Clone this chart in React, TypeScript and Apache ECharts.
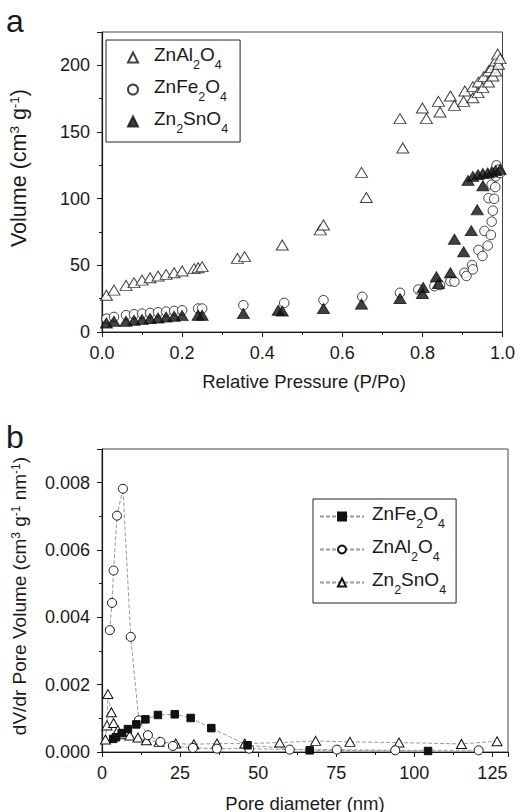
import React, { useEffect, useRef } from 'react';
import * as echarts from 'echarts';

const FONT = '"Liberation Sans", Arial, Helvetica, sans-serif';
const INK = '#1a1a1a';

// ---------- (a) N2 isotherms: relative pressure vs volume ----------
const isoAlX = [0.011, 0.03, 0.06, 0.08, 0.10, 0.12, 0.14, 0.16, 0.18, 0.20, 0.23, 0.24, 0.25, 0.338, 0.356, 0.45, 0.545, 0.553, 0.648, 0.66, 0.744, 0.751, 0.80, 0.81, 0.84, 0.844, 0.87, 0.88, 0.906, 0.903, 0.926, 0.926, 0.94, 0.939, 0.953, 0.951, 0.965, 0.965, 0.973, 0.976, 0.982, 0.983, 0.988, 0.99, 0.994];
const isoAlY = [27.6, 31.4, 35, 37, 38.9, 40.7, 42, 43.2, 44.4, 45.7, 47.5, 48.2, 49, 55.2, 56.5, 65.3, 76.6, 80.3, 119.7, 100.9, 160, 138, 168, 160, 173, 165, 177, 170, 180.7, 173, 184, 175.7, 187.5, 179.5, 191.5, 183.3, 195.8, 187.5, 198.3, 192, 203.3, 195.8, 208.4, 200.8, 205];

const isoFeX = [0.011, 0.03, 0.06, 0.08, 0.10, 0.12, 0.14, 0.16, 0.18, 0.20, 0.24, 0.25, 0.353, 0.455, 0.553, 0.65, 0.744, 0.79, 0.83, 0.844, 0.87, 0.88, 0.905, 0.91, 0.924, 0.926, 0.94, 0.95, 0.955, 0.963, 0.971, 0.973, 0.976, 0.965, 0.979, 0.973, 0.982, 0.983, 0.985, 0.99, 0.994];
const isoFeY = [10, 11.3, 12.6, 13.3, 13.8, 14.3, 14.8, 15.3, 15.8, 16.3, 17.6, 17.6, 20.1, 21.8, 23.9, 26.4, 29.4, 31.9, 34.4, 35.2, 38.2, 37.7, 44.4, 42, 50.2, 47, 61.5, 57, 75.8, 64.8, 72.8, 82.8, 91, 100.4, 99.9, 110.5, 108.7, 116.7, 125, 121.8, 119.3];

const isoSnX = [0.011, 0.03, 0.06, 0.08, 0.10, 0.12, 0.14, 0.16, 0.18, 0.20, 0.24, 0.25, 0.353, 0.44, 0.45, 0.553, 0.648, 0.744, 0.80, 0.802, 0.835, 0.84, 0.87, 0.88, 0.903, 0.922, 0.937, 0.951, 0.914, 0.926, 0.939, 0.951, 0.963, 0.973, 0.983, 0.994];
const isoSnY = [6.8, 8, 8, 8.8, 9.3, 10.1, 10.5, 11.3, 11.8, 12.3, 12.6, 12.6, 13.8, 16.3, 15.8, 17.6, 20.9, 25.1, 28.9, 33.4, 41.4, 36.4, 44.4, 69.6, 60.2, 76, 91.6, 109.7, 113.7, 116.7, 118, 118.8, 119.3, 120, 121, 121.8];

const isoXTicks = { min: 0, max: 1, interval: 0.2 };
const isoYTicks = { min: 0, max: 225, interval: 50 };

// ---------- (b) pore size distribution ----------
const psdFeX = [3.6, 4.5, 6.3, 8.3, 11.0, 13.9, 17.9, 23.3, 28.4, 35.0, 46.6, 66.5, 104.4];
const psdFeY = [0.00039, 0.00044, 0.00056, 0.00068, 0.00082, 0.00097, 0.0011, 0.00112, 0.00101, 0.00071, 0.0002, 0.00005, 0.00003];

const psdAlX = [2.5, 3.2, 3.7, 4.8, 6.7, 9.2, 11.8, 14.7, 18.7, 22.7, 29.1, 36.8, 47.1, 60.1, 75.2, 93.9, 120.6];
const psdAlY = [0.00362, 0.00443, 0.00539, 0.00702, 0.00782, 0.00342, 0.00094, 0.0005, 0.0003, 0.00018, 0.00012, 0.0001, 0.0001, 0.00007, 0.00007, 0.00005, 0.00005];

const psdSnX = [1.1, 1.6, 1.9, 3.0, 3.7, 5.1, 6.7, 8.9, 11.5, 14.2, 18.3, 23.6, 29.4, 36.8, 45.7, 56.9, 68.4, 79.4, 95.1, 115.1, 126.5];
const psdSnY = [0.00037, 0.00079, 0.00172, 0.00118, 0.00086, 0.00065, 0.00053, 0.00049, 0.00043, 0.00035, 0.0003, 0.00025, 0.00023, 0.00025, 0.00025, 0.00028, 0.00033, 0.0003, 0.00028, 0.00024, 0.00032];

const psdXTicks = { min: 0, max: 130, interval: 25 };
const psdYTicks = { min: 0, max: 0.009, interval: 0.002 };

const topLegendNames = ['a:ZnAl2O4', 'a:ZnFe2O4', 'a:Zn2SnO4'];
const bottomLegendNames = ['b:ZnFe2O4', 'b:ZnAl2O4', 'b:Zn2SnO4'];

const pairs = (xs: number[], ys: number[]) => xs.map((x, i) => [x, ys[i]]);

function richName(name: string, first: string) {
  const plain = name.replace(/^[ab]:/, '');
  const parts = plain.match(/\d+|\D+/g) || [];
  return parts
    .map((p, i) => {
      const isNum = /^\d+$/.test(p);
      const key = isNum ? 's' : i === 0 ? first : 'n';
      return `{${key}|${p}}`;
    })
    .join('');
}

function legendRich(firstPad: number) {
  return {
    f: { fontSize: 19, lineHeight: 25, verticalAlign: 'top', color: INK, fontFamily: FONT, padding: [0, 0, 0, firstPad] },
    n: { fontSize: 19, lineHeight: 25, verticalAlign: 'top', color: INK, fontFamily: FONT },
    s: { fontSize: 12.5, lineHeight: 12, verticalAlign: 'top', color: INK, fontFamily: FONT, padding: [13, 0, 0, 0] },
  };
}

function titleRich(size: number, sup: number) {
  return {
    n: { fontSize: size, lineHeight: size + 3, verticalAlign: 'top', fill: INK, color: INK, fontFamily: FONT },
    p: { fontSize: sup, lineHeight: sup, verticalAlign: 'top', fill: INK, color: INK, fontFamily: FONT },
  };
}

function valueAxis(gridIndex: number, ticks: { min: number; max: number; interval: number }, fmt: (v: number) => string, hideMax: boolean) {
  return {
    type: 'value',
    gridIndex,
    min: ticks.min,
    max: ticks.max,
    interval: ticks.interval,
    axisLine: { show: true, onZero: false, lineStyle: { color: INK, width: 1.2 } },
    axisTick: { show: true, inside: false, length: 5, lineStyle: { color: INK, width: 1 } },
    minorTick: { show: true, splitNumber: 2, length: 3, lineStyle: { color: INK, width: 1 } },
    splitLine: { show: false },
    minorSplitLine: { show: false },
    axisLabel: { fontSize: 18, color: INK, fontFamily: FONT, margin: 12, formatter: fmt, showMaxLabel: hideMax ? false : null },
  };
}

const openStyle = { color: '#fff', borderColor: '#111', borderWidth: 1 };
const filledStyle = { color: '#111', borderColor: '#111', borderWidth: 1 };
const psdLine = { color: '#9a9a9a', width: 1, type: [4, 2] };

export default function App() {
  const ref = useRef<HTMLDivElement>(null);

  useEffect(() => {
    if (!ref.current) return;
    const chart = echarts.init(ref.current, null, { renderer: 'svg' });
    const option: any = {
      animation: false,
      backgroundColor: '#fff',
      textStyle: { fontFamily: FONT, color: INK },
      grid: [
        { left: 102, top: 32, width: 404, height: 300, show: true, borderColor: '#444', borderWidth: 1, backgroundColor: 'transparent' },
        { left: 102, top: 449, width: 406, height: 303, show: true, borderColor: '#444', borderWidth: 1, backgroundColor: 'transparent' },
      ],
      xAxis: [
        valueAxis(0, isoXTicks, (v: number) => v.toFixed(1), false),
        valueAxis(1, psdXTicks, (v: number) => String(v), false),
      ],
      yAxis: [
        valueAxis(0, isoYTicks, (v: number) => String(v), true),
        valueAxis(1, psdYTicks, (v: number) => v.toFixed(3), true),
      ],
      legend: [
        {
          orient: 'vertical', left: 106, top: 40, padding: [5, 12, 7, 21], itemGap: 6, itemWidth: 10, itemHeight: 10,
          borderColor: '#222', borderWidth: 1, backgroundColor: '#fff', selectedMode: false,
          data: topLegendNames, formatter: (n: string) => richName(n, 'f'), textStyle: { rich: legendRich(11) },
        },
        {
          orient: 'vertical', left: 313, top: 499, padding: [5, 10, 7, 6], itemGap: 7, itemWidth: 44, itemHeight: 10,
          borderColor: '#222', borderWidth: 1, backgroundColor: '#fff', selectedMode: false,
          data: bottomLegendNames, formatter: (n: string) => richName(n, 'f'), textStyle: { rich: legendRich(3) },
        },
      ],
      series: [
        { name: 'a:ZnAl2O4', type: 'scatter', xAxisIndex: 0, yAxisIndex: 0, symbol: 'triangle', symbolSize: [12, 10], itemStyle: openStyle, data: pairs(isoAlX, isoAlY) },
        { name: 'a:ZnFe2O4', type: 'scatter', xAxisIndex: 0, yAxisIndex: 0, symbol: 'circle', symbolSize: 9.5, itemStyle: openStyle, data: pairs(isoFeX, isoFeY) },
        { name: 'a:Zn2SnO4', type: 'scatter', xAxisIndex: 0, yAxisIndex: 0, symbol: 'triangle', symbolSize: [12, 10], itemStyle: filledStyle, data: pairs(isoSnX, isoSnY) },
        { name: 'b:Zn2SnO4', type: 'line', xAxisIndex: 1, yAxisIndex: 1, symbol: 'triangle', symbolSize: [10, 9], showSymbol: true, showAllSymbol: true, itemStyle: openStyle, lineStyle: psdLine, data: pairs(psdSnX, psdSnY) },
        { name: 'b:ZnAl2O4', type: 'line', xAxisIndex: 1, yAxisIndex: 1, symbol: 'circle', symbolSize: 9, showSymbol: true, showAllSymbol: true, itemStyle: openStyle, lineStyle: psdLine, data: pairs(psdAlX, psdAlY) },
        { name: 'b:ZnFe2O4', type: 'line', xAxisIndex: 1, yAxisIndex: 1, symbol: 'rect', symbolSize: 7.5, showSymbol: true, showAllSymbol: true, itemStyle: filledStyle, lineStyle: psdLine, data: pairs(psdFeX, psdFeY) },
      ],
      graphic: [
        { type: 'text', x: 6, y: 20.6, style: { text: 'a', fontSize: 32, fontFamily: FONT, fill: INK, align: 'left', verticalAlign: 'middle' } },
        { type: 'text', x: 6, y: 437.2, style: { text: 'b', fontSize: 32, fontFamily: FONT, fill: INK, align: 'left', verticalAlign: 'middle' } },
        { type: 'text', x: 304, y: 381, style: { text: 'Relative Pressure (P/Po)', fontSize: 18.5, fontFamily: FONT, fill: INK, align: 'center', verticalAlign: 'middle' } },
        { type: 'text', x: 305, y: 803, style: { text: 'Pore diameter (nm)', fontSize: 18.5, fontFamily: FONT, fill: INK, align: 'center', verticalAlign: 'middle' } },
        { type: 'text', x: 20, y: 168, rotation: Math.PI / 2, style: { text: '{n|Volume (cm}{p|3}{n| g}{p|-1}{n|)}', rich: titleRich(21.5, 13.5), fill: INK, fontFamily: FONT, align: 'center', verticalAlign: 'middle' } },
        { type: 'text', x: 21, y: 596, rotation: Math.PI / 2, style: { text: '{n|dV/dr Pore Volume (cm}{p|3}{n| g}{p|-1}{n| nm}{p|-1}{n|)}', rich: titleRich(19, 12), fill: INK, fontFamily: FONT, align: 'center', verticalAlign: 'middle' } },
      ],
    };
    chart.setOption(option);
    return () => chart.dispose();
  }, []);

  return <div ref={ref} style={{ position: 'absolute', left: 0, top: 0, width: 518, height: 812, background: '#fff' }} />;
}
